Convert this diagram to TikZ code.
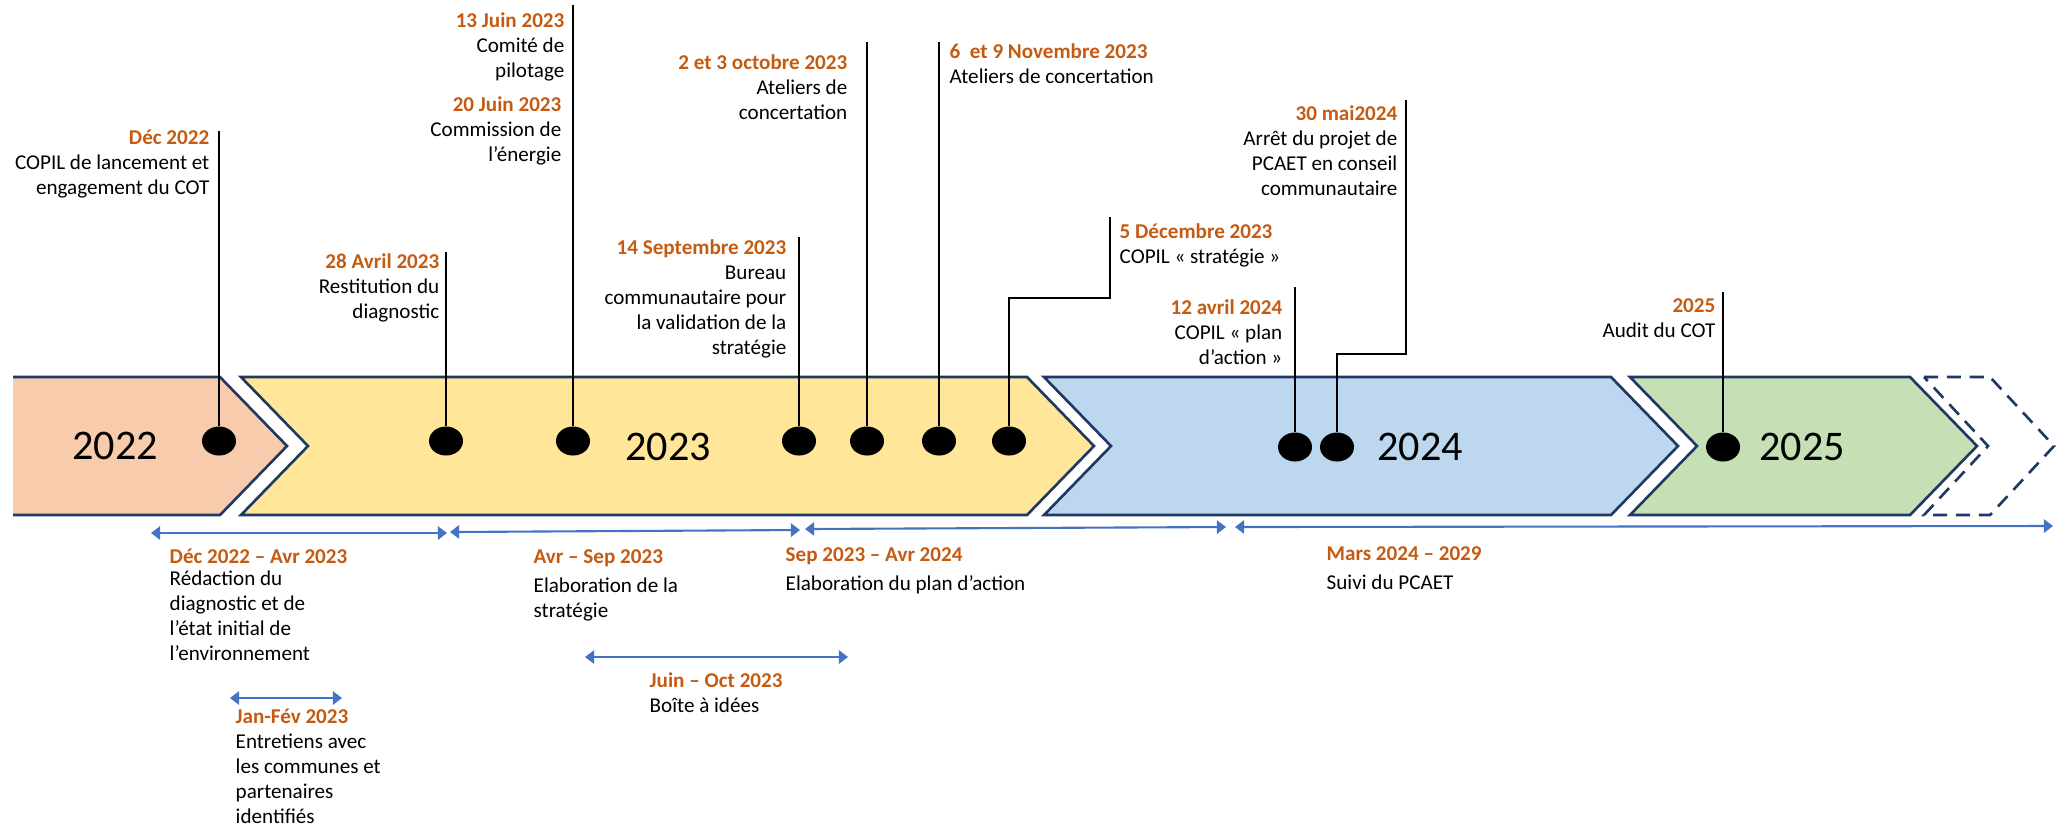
\documentclass[tikz,border=0pt]{standalone}
\usepackage{fontspec}
\setmainfont{Carlito}
\usetikzlibrary{shapes.geometric,arrows.meta}
\definecolor{peach}{HTML}{F8CBAD}
\definecolor{sand}{HTML}{FFE699}
\definecolor{sky}{HTML}{BDD7EE}
\definecolor{sage}{HTML}{C5E0B4}
\definecolor{navy}{HTML}{203864}
\definecolor{rust}{HTML}{C55A11}
\definecolor{spanblue}{HTML}{4472C4}
\newcommand{\datehd}[1]{\textcolor{rust}{\bfseries #1}}
\begin{document}
\begin{tikzpicture}[x=0.01cm,y=-0.01cm,
  every node/.style={inner sep=0pt,font=\fontsize{6}{7.1}\selectfont},
  year/.style={font=\fontsize{12}{14}\selectfont},
  evdot/.style={ellipse,fill=black,minimum width=0.34cm,minimum height=0.29cm},
  band/.style={draw=navy,line width=0.75pt},
  stem/.style={draw=black,line width=0.35pt},
  period/.style={draw=spanblue,line width=0.6pt,{Triangle[length=2.6pt,width=3.8pt]}-{Triangle[length=2.6pt,width=3.8pt]}},
  lbl/.style={anchor=base east,align=right},
  lbr/.style={anchor=base west,align=left}]
\useasboundingbox (0,0) rectangle (2058,829);

\fill[peach] (13,377) -- (220,377) -- (287,446) -- (220,515) -- (13,515) -- cycle;
\draw[band] (13,515) -- (220,515) -- (287,446) -- (220,377) -- (13,377);
\filldraw[band,fill=sand] (241,377) -- (1027,377) -- (1094,446) -- (1027,515) -- (241,515) -- (308,446) -- cycle;
\filldraw[band,fill=sky] (1044,377) -- (1611,377) -- (1678,446) -- (1611,515) -- (1044,515) -- (1111,446) -- cycle;
\filldraw[band,fill=sage] (1630,377) -- (1910,377) -- (1977,446) -- (1910,515) -- (1630,515) -- (1697,446) -- cycle;
\draw[band,dash pattern=on 4pt off 2.5pt] (1924,377) -- (1990,377) -- (2054,446) -- (1990,515) -- (1924,515) -- (1988,446) -- cycle;

\node[year] (y22) at (115,446) {2022};
\node[year] (y23) at (668,447) {2023};
\node[year] (y24) at (1420,447) {2024};
\node[year] (y25) at (1802,447) {2025};

\node[evdot] (d1) at (219,441) {};
\node[evdot] (d2) at (446,441) {};
\node[evdot] (d3) at (573,441) {};
\node[evdot] (d4) at (799,441) {};
\node[evdot] (d5) at (867,441) {};
\node[evdot] (d6) at (939,441) {};
\node[evdot] (d7) at (1009,441) {};
\node[evdot] (d8) at (1295,447) {};
\node[evdot] (d9) at (1337,447) {};
\node[evdot] (d10) at (1723,447) {};

\coordinate (t1) at (219,131);
\coordinate (t2) at (446,252);
\coordinate (t3) at (573,5);
\coordinate (t4) at (799,237);
\coordinate (t5) at (867,42);
\coordinate (t6) at (939,42);
\coordinate (j7) at (1110,298);
\coordinate (t7) at (1110,217);
\coordinate (t8) at (1295,287);
\coordinate (j9) at (1406,354);
\coordinate (t9) at (1406,100);
\coordinate (t10) at (1723,292);
\draw[stem] (d1) -- (t1);
\draw[stem] (d2) -- (t2);
\draw[stem] (d3) -- (t3);
\draw[stem] (d4) -- (t4);
\draw[stem] (d5) -- (t5);
\draw[stem] (d6) -- (t6);
\draw[stem] (d7) |- (j7) -- (t7);
\draw[stem] (d8) -- (t8);
\draw[stem] (d9) |- (j9) -- (t9);
\draw[stem] (d10) -- (t10);

\node[lbl] (e1) at (210,194) {\datehd{Déc 2022}\\COPIL de lancement et\\engagement du COT};
\node[lbl] (e2) at (440,318) {\datehd{28 Avril 2023}\\Restitution du\\diagnostic};
\node[lbl] (e3) at (565,77) {\datehd{13 Juin 2023}\\Comité de\\pilotage};
\node[lbl] (e4) at (562,161) {\datehd{20 Juin 2023}\\Commission de\\l’énergie};
\node[lbl] (e5) at (787,354) {\datehd{14 Septembre 2023}\\Bureau\\communautaire pour\\la validation de la\\stratégie};
\node[lbl] (e6) at (848,119) {\datehd{2 et 3 octobre 2023}\\Ateliers de\\concertation};
\node[lbr] (e7) at (949,83) {\datehd{6~ et 9 Novembre 2023}\\Ateliers de concertation};
\node[lbr] (e8) at (1119,263) {\datehd{5 Décembre 2023}\\COPIL « stratégie »};
\node[lbl] (e9) at (1283,364) {\datehd{12 avril 2024}\\COPIL « plan\\d’action »};
\node[lbl] (e10) at (1398,195) {\datehd{30 mai2024}\\Arrêt du projet de\\PCAET en conseil\\communautaire};
\node[lbl] (e11) at (1716,337) {\datehd{2025}\\Audit du COT};

\coordinate (s1a) at (151,533);
\coordinate (s1b) at (447,533);
\coordinate (s2a) at (450,532);
\coordinate (s2b) at (800,530);
\coordinate (s3a) at (805,529);
\coordinate (s3b) at (1226,527);
\coordinate (s4a) at (1235,527);
\coordinate (s4b) at (2053,526);
\coordinate (s5a) at (585,657);
\coordinate (s5b) at (848,657);
\coordinate (s6a) at (230,698);
\coordinate (s6b) at (342,698);
\draw[period] (s1a) -- (s1b);
\draw[period] (s2a) -- (s2b);
\draw[period] (s3a) -- (s3b);
\draw[period] (s4a) -- (s4b);
\draw[period] (s5a) -- (s5b);
\draw[period] (s6a) -- (s6b);

\node[lbr] (p1) at (169,660) {\datehd{Déc 2022 – Avr 2023}\\[-1pt]Rédaction du\\diagnostic et de\\l’état initial de\\l’environnement};
\node[lbr] (p2) at (533,617) {\datehd{Avr – Sep 2023}\\[1pt]Elaboration de la\\stratégie};
\node[lbr] (p3) at (785,590) {\datehd{Sep 2023 – Avr 2024}\\[1pt]Elaboration du plan d’action};
\node[lbr] (p4) at (1326,589) {\datehd{Mars 2024 – 2029}\\[1pt]Suivi du PCAET};
\node[lbr] (p5) at (649,712) {\datehd{Juin – Oct 2023}\\Boîte à idées};
\node[lbr] (p6) at (235,823) {\datehd{Jan-Fév 2023}\\Entretiens avec\\les communes et\\partenaires\\identifiés};

\end{tikzpicture}
\end{document}
